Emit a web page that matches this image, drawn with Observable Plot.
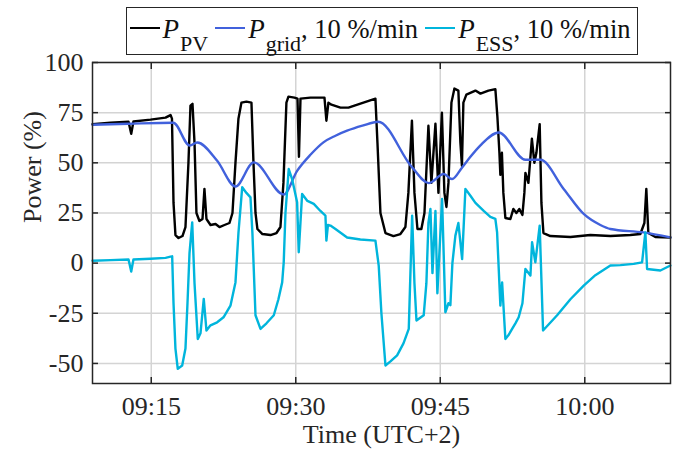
<!DOCTYPE html>
<html>
<head>
<meta charset="utf-8">
<script src="https://cdn.jsdelivr.net/npm/d3@7"></script>
<script src="https://cdn.jsdelivr.net/npm/@observablehq/plot@0.6"></script>
<style>
  body { margin: 0; background: #fff; font-family: "Liberation Serif", "Times New Roman", serif; color: #262626; }
  #wrap { position: relative; width: 680px; height: 456px; }
  #legend { position: absolute; left: 0; top: 0; width: 680px; height: 56px; }
  #legend .box {
    position: absolute; left: 126px; top: 7px; width: 512px; height: 48px;
    box-sizing: border-box; border: 1.5px solid #262626; background: #fff;
    font-size: 26.5px; line-height: 1; padding: 8px 0 0 2.5px; white-space: nowrap; color: #111;
  }
  #legend .sw { display: inline-block; width: 30px; height: 0; border-top: 2px solid; vertical-align: 9px; }
  #legend .p { font-style: italic; font-size: 27px; margin-left: 3px; }
  #legend sub { font-size: 22px; vertical-align: -13px; margin-left: 1px; }
  #legend .item + .item { margin-left: 7px; }
  #chart svg { display: block; }
</style>
</head>
<body>
<div id="wrap">
  <div id="chart"></div>
  <div id="legend"></div>
</div>
<script>
// Time axis: minutes after 09:00 (UTC+2 local clock)
const xTickLabels = ["09:15", "09:30", "09:45", "10:00"];
const yTicks = [-50, -25, 0, 25, 50, 75, 100];
const xDomainMinutes = [8.9, 68.9];
const yDomain = [-60, 100];

// PV output (%)
const pvTime = [8.90, 10.77, 12.64, 12.92, 13.15, 14.92, 16.48, 17.00, 17.15, 17.31, 17.51, 17.83, 18.24, 18.55, 18.86,
  19.07, 19.28, 19.49, 19.69, 20.00, 20.32, 20.52, 20.73, 21.15, 21.67, 22.08, 22.60, 23.12, 23.43, 23.74, 24.05, 24.36,
  24.88, 25.40, 25.61, 25.82, 26.02, 26.54, 27.37, 28.00, 28.41, 28.72, 29.03, 29.24, 29.86, 30.18, 30.33, 30.49, 31.52,
  32.98, 33.18, 33.39, 33.70, 34.64, 35.47, 36.71, 38.27, 38.48, 38.79, 39.31, 40.14, 40.86, 41.38, 41.69, 42.06, 42.32,
  42.63, 43.04, 43.36, 43.77, 44.08, 44.50, 44.81, 45.17, 45.43, 45.64, 45.85, 46.16, 46.47, 46.88, 47.09, 47.25, 47.40,
  47.71, 48.65, 49.17, 50.00, 50.72, 50.93, 51.14, 51.24, 51.40, 51.55, 51.76, 52.28, 52.59, 52.90, 53.21, 53.53, 53.73,
  53.84, 54.15, 54.51, 54.77, 54.98, 55.32, 55.50, 55.71, 56.43, 58.51, 60.58, 62.66, 64.73, 65.77, 66.19, 66.39, 66.60,
  67.33, 68.89];
const pvValue = [69.2, 70.0, 70.5, 64.5, 70.6, 71.5, 72.5, 73.8, 72.0, 30.0, 14.0, 12.5, 13.5, 18.0, 50.0,
  78.5, 79.4, 60.0, 25.0, 21.0, 22.0, 37.0, 22.0, 19.0, 19.5, 18.0, 19.0, 20.0, 25.0, 50.0, 72.0, 80.0,
  80.5, 80.0, 50.0, 25.0, 17.0, 14.5, 14.0, 15.0, 18.0, 40.0, 80.0, 83.0, 82.5, 82.0, 53.0, 82.0, 82.5,
  82.5, 71.0, 80.0, 79.0, 77.5, 77.5, 79.5, 82.0, 60.0, 25.0, 15.0, 13.5, 14.5, 18.0, 35.0, 71.0, 35.0,
  17.0, 17.0, 25.0, 68.5, 40.0, 69.5, 35.0, 75.0, 35.0, 28.0, 40.0, 80.0, 87.0, 86.0, 60.0, 48.5, 80.0,
  84.0, 86.0, 84.5, 86.0, 86.7, 73.0, 55.0, 44.0, 55.0, 35.0, 22.5, 22.0, 27.0, 25.0, 27.0, 24.0, 35.0,
  45.0, 40.0, 62.0, 50.0, 55.0, 69.3, 30.0, 15.0, 13.5, 13.0, 14.0, 13.5, 14.0, 14.5, 20.0, 37.0, 15.0,
  13.0, 12.8];

// Grid power with 10 %/min ramp limit (%)
const gridTime = [8.90, 12.64, 17.28, 19.00, 19.77, 21.84, 23.74, 25.64, 28.75, 30.14, 31.52, 32.87, 34.12, 35.33,
  36.92, 38.55, 42.08, 43.80, 45.36, 46.23, 47.27, 48.13, 49.17, 51.07, 53.84, 55.39, 57.81, 59.89, 61.62, 62.66,
  66.08, 68.89];
const gridValue = [69.0, 69.5, 70.0, 58.6, 60.1, 51.0, 38.2, 50.2, 34.2, 46.0, 54.0, 60.2, 63.5, 66.0,
  68.5, 70.5, 47.7, 39.9, 44.4, 41.9, 47.7, 53.0, 58.7, 65.1, 51.5, 51.5, 37.0, 24.5, 19.0, 17.0,
  15.3, 12.8];

// Energy storage power (%)
const essTime = [8.90, 10.77, 12.64, 12.92, 13.15, 14.92, 16.48, 17.00, 17.17, 17.31, 17.51, 17.75, 18.21, 18.55, 18.76,
  18.97, 19.25, 19.49, 19.83, 20.11, 20.45, 20.73, 21.15, 21.84, 22.50, 23.22, 23.74, 24.05, 24.44, 24.88, 25.30, 25.50,
  25.82, 26.34, 26.96, 27.72, 28.20, 28.59, 28.75, 28.93, 29.27, 29.62, 30.14, 30.31, 30.66, 31.21, 31.87, 32.56, 33.08,
  33.18, 33.34, 33.60, 34.12, 35.33, 36.71, 38.27, 38.61, 38.89, 39.31, 39.83, 40.52, 41.18, 41.73, 42.08, 42.32, 42.53,
  43.28, 43.56, 43.77, 43.98, 44.19, 44.50, 44.70, 45.19, 45.53, 45.85, 46.05, 46.26, 46.57, 46.88, 47.27, 47.61, 48.13,
  48.65, 49.51, 50.20, 50.72, 50.90, 51.24, 51.42, 51.76, 52.07, 52.46, 52.80, 53.14, 53.53, 53.84, 54.36, 54.53, 54.87,
  55.32, 55.67, 57.13, 58.51, 59.89, 61.10, 62.66, 63.70, 65.08, 65.95, 66.29, 66.47, 67.85, 68.89];
const essValue = [1.2, 1.5, 1.8, -4.2, 1.8, 2.2, 2.6, 3.2, 3.4, -20.0, -42.6, -52.7, -51.0, -42.6, -20.0,
  5.0, 20.3, -10.0, -37.8, -35.0, -17.8, -33.6, -31.0, -29.5, -27.0, -21.2, -9.6, 15.0, 37.8, 35.0, 32.8, 15.0,
  -26.0, -32.8, -30.0, -26.0, -18.0, -9.6, 0.4, 25.0, 46.9, 41.9, 30.3, 5.4, 34.5, 31.0, 29.5, 26.0, 23.7,
  11.2, 19.0, 18.7, 17.0, 12.8, 11.8, 11.2, -1.2, -25.0, -51.0, -49.0, -46.0, -40.0, -32.8, 23.7, -10.0, -28.6,
  -26.0, -10.0, 20.0, 27.0, -5.0, 26.0, -15.0, 32.0, -24.5, -20.0, -21.0, 0.0, 13.7, 20.0, 2.0, 37.0, 33.6,
  30.0, 26.0, 23.0, 22.0, 15.3, -21.2, -9.6, -37.8, -36.0, -32.8, -30.0, -27.0, -20.0, -2.9, -6.2, 10.4, 0.4,
  18.7, -33.6, -26.0, -18.0, -11.2, -6.0, -1.2, -1.0, -0.4, 0.4, 15.3, -2.9, -3.7, -1.2];

const seriesColors = {pv: "#000000", grid: "#4161dc", ess: "#00b5dc"};
const xLabel = "Time (UTC+2)";
const yLabel = "Power (%)";

const base = Date.UTC(2024, 0, 1, 9, 0, 0);
const toDate = (m) => new Date(base + m * 60000);
const fromHHMM = (s) => { const [h, m] = s.split(":").map(Number); return toDate((h - 9) * 60 + m); };
const zip = (ts, vs) => ts.map((t, i) => ({t: toDate(t), v: vs[i]}));

const pv = zip(pvTime, pvValue);
const grid = zip(gridTime, gridValue);
const ess = zip(essTime, essValue);
const xTicks = xTickLabels.map(fromHHMM);
const fmt = d3.utcFormat("%H:%M");

// Legend with TeX-style subscripts, boxed above the plot frame
const legendItems = [
  {color: seriesColors.pv, sub: "PV", rest: ""},
  {color: seriesColors.grid, sub: "grid", rest: ", 10 %/min"},
  {color: seriesColors.ess, sub: "ESS", rest: ", 10 %/min"}
];
const box = document.createElement("div");
box.className = "box";
box.innerHTML = legendItems.map(d =>
  `<span class="item"><span class="sw" style="border-color:${d.color}"></span><span class="p">P</span><sub>${d.sub}</sub>${d.rest}</span>`
).join("");
document.getElementById("legend").appendChild(box);

const serif = '"Liberation Serif", "Times New Roman", serif';
const gridStyle = {stroke: "#d4d4d4", strokeOpacity: 1, strokeWidth: 1.5};
const axisColor = "#262626";
const tickStyle = {tickSize: -6, fill: "none", stroke: axisColor, strokeWidth: 1.5, label: null};

const chart = Plot.plot({
  width: 680,
  height: 456,
  marginTop: 62,
  marginBottom: 73,
  marginLeft: 92,
  marginRight: 10,
  style: {fontFamily: serif, fontSize: "26px", color: axisColor, background: "transparent", overflow: "visible"},
  x: {type: "utc", domain: xDomainMinutes.map(toDate)},
  y: {domain: yDomain},
  marks: [
    Plot.gridX(xTicks, gridStyle),
    Plot.gridY(yTicks, gridStyle),
    Plot.line(pv, {x: "t", y: "v", stroke: seriesColors.pv, strokeWidth: 2.4, strokeLinejoin: "round"}),
    Plot.line(grid, {x: "t", y: "v", stroke: seriesColors.grid, strokeWidth: 2.4, curve: "monotone-x"}),
    Plot.line(ess, {x: "t", y: "v", stroke: seriesColors.ess, strokeWidth: 2.4, strokeLinejoin: "round"}),
    Plot.frame({stroke: axisColor, strokeWidth: 1.5}),
    // inward ticks on all four sides
    Plot.axisX(xTicks, {anchor: "bottom", ...tickStyle}),
    Plot.axisX(xTicks, {anchor: "top", ...tickStyle}),
    Plot.axisY(yTicks, {anchor: "left", ...tickStyle}),
    Plot.axisY(yTicks, {anchor: "right", ...tickStyle}),
    // tick labels
    Plot.axisX(xTicks, {anchor: "bottom", tickSize: 0, tickPadding: 13, tickFormat: fmt, label: null,
      fill: axisColor, fontFamily: serif, fontSize: 26}),
    Plot.axisY(yTicks, {anchor: "left", tickSize: 0, tickPadding: 9, tickFormat: (d) => String(d), label: null,
      fill: axisColor, fontFamily: serif, fontSize: 26}),
    // axis titles
    Plot.text([xLabel], {frameAnchor: "bottom", dy: 59, text: (d) => d, fontSize: 26, fontFamily: serif, fill: axisColor}),
    Plot.text([yLabel], {frameAnchor: "left", dx: -60, rotate: -90, text: (d) => d, fontSize: 26, fontFamily: serif, fill: axisColor})
  ]
});
document.getElementById("chart").appendChild(chart);
</script>
</body>
</html>
